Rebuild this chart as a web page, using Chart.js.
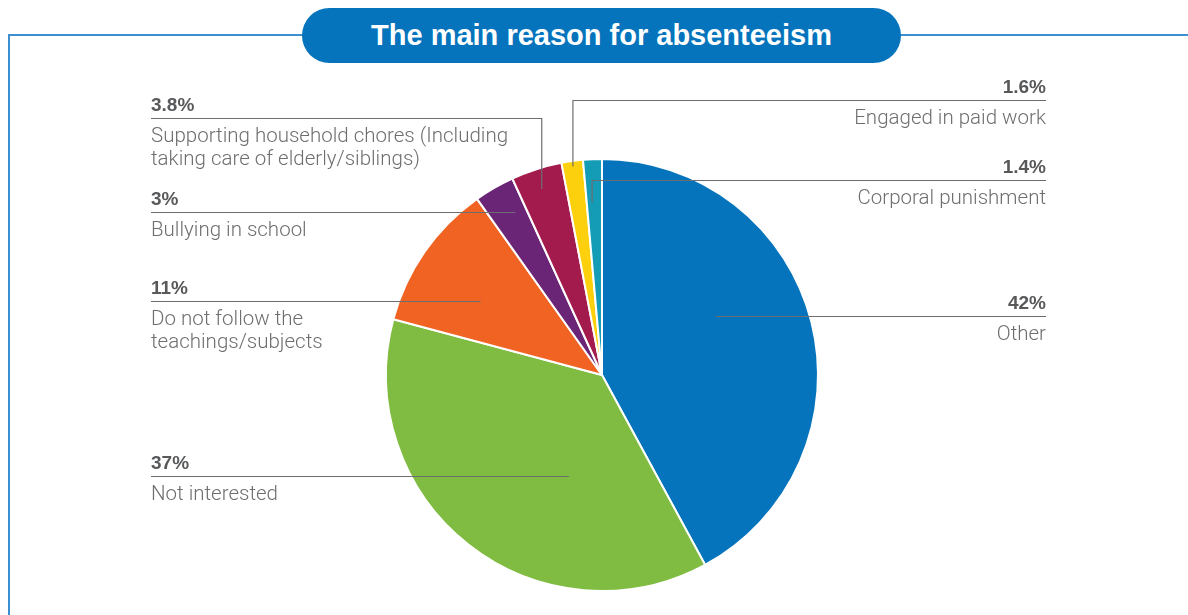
<!DOCTYPE html>
<html>
<head>
<meta charset="utf-8">
<script src="https://cdn.jsdelivr.net/npm/chart.js@4/dist/chart.umd.min.js"></script>
<style>
  html, body { margin: 0; padding: 0; background: #fff; }
  #wrap { position: relative; width: 1188px; height: 615px; overflow: hidden; }
  #frame { position: absolute; left: 8px; top: 34px; width: 1200px; height: 600px;
           border-left: 2px solid #3d8fcf; border-top: 2px solid #3d8fcf; box-sizing: border-box; }
  #title { position: absolute; left: 302px; top: 8px; width: 599px; height: 55px;
           background: #0574bc; border-radius: 28px; color: #fff;
           font: bold 29px "Liberation Sans", Arial, sans-serif; text-align: center; line-height: 55px; }
  canvas { position: absolute; left: 0; top: 0; }
</style>
</head>
<body>
<div id="wrap">
  <div id="frame"></div>
  <div id="title">The main reason for absenteeism</div>
  <canvas id="c" width="1188" height="615"></canvas>
</div>
<script>
// Share of students by main reason for absenteeism (%)
const categories = [
  'Other',
  'Not interested',
  'Do not follow the teachings/subjects',
  'Bullying in school',
  'Supporting household chores (Including taking care of elderly/siblings)',
  'Engaged in paid work',
  'Corporal punishment'
];
const shares = [42, 37, 11, 3, 3.8, 1.6, 1.4];
const shareLabels = ['42%', '37%', '11%', '3%', '3.8%', '1.6%', '1.4%'];
const labelLines = [
  ['Other'],
  ['Not interested'],
  ['Do not follow the', 'teachings/subjects'],
  ['Bullying in school'],
  ['Supporting household chores (Including', 'taking care of elderly/siblings)'],
  ['Engaged in paid work'],
  ['Corporal punishment']
];
const sliceColors = ['#0574bc', '#80bc41', '#f16323', '#6b2577', '#a31b4d', '#fdd00e', '#149bb6'];

// Callout layout: side, y of the rule line, and where inside the slice the leader ends
// (t = fraction across the slice's angle, f = fraction of the radius)
const callouts = [
  { side: 'right', lineY: 316, t: 0.415, f: 0.59, elbow: false },
  { side: 'left',  lineY: 476, t: 0.35,  f: 0.49, elbow: false },
  { side: 'left',  lineY: 301, t: 0.42,  f: 0.66, elbow: false },
  { side: 'left',  lineY: 212, t: 0.66,  f: 0.85, elbow: false },
  { side: 'left',  lineY: 118, t: 0.48,  f: 0.905, elbow: true },
  { side: 'right', lineY: 100, t: 0.5,   f: 0.975, elbow: true },
  { side: 'right', lineY: 180, t: 0.35,  f: 0.80, elbow: true }
];
const LEFT_X = 151, RIGHT_X = 1046;

const calloutPlugin = {
  id: 'callouts',
  afterDatasetsDraw(chart) {
    const ctx = chart.ctx;
    const arcs = chart.getDatasetMeta(0).data;
    ctx.save();
    arcs.forEach((arc, i) => {
      const c = callouts[i];
      const p = arc.getProps(['x', 'y', 'startAngle', 'endAngle', 'outerRadius'], true);
      const a = p.startAngle + (p.endAngle - p.startAngle) * c.t;
      const ex = p.x + Math.cos(a) * p.outerRadius * c.f;
      const ey = p.y + Math.sin(a) * p.outerRadius * c.f;
      const sx = c.side === 'left' ? LEFT_X : RIGHT_X;

      ctx.strokeStyle = '#6d6e70';
      ctx.lineWidth = 1.2;
      ctx.beginPath();
      ctx.moveTo(sx, c.lineY + 0.5);
      ctx.lineTo(ex, c.lineY + 0.5);
      if (c.elbow) ctx.lineTo(ex, ey);
      ctx.stroke();

      ctx.textAlign = c.side === 'left' ? 'left' : 'right';
      ctx.textBaseline = 'alphabetic';
      ctx.fillStyle = '#58595b';
      ctx.font = 'bold 19px "Liberation Sans", Arial, sans-serif';
      ctx.fillText(shareLabels[i], sx, c.lineY - 7);

      ctx.fillStyle = '#6d6e70';
      ctx.font = '300 20.5px Roboto, "Liberation Sans", sans-serif';
      labelLines[i].forEach((ln, k) => {
        ctx.fillText(ln, sx, c.lineY + 24 + k * 23);
      });
    });
    ctx.restore();
  }
};

new Chart(document.getElementById('c'), {
  type: 'pie',
  data: {
    labels: categories,
    datasets: [{
      data: shares,
      backgroundColor: sliceColors,
      borderColor: '#ffffff',
      borderWidth: 2
    }]
  },
  options: {
    responsive: false,
    animation: false,
    layout: { padding: { left: 385, right: 369, top: 158, bottom: 23 } },
    plugins: {
      legend: { display: false },
      tooltip: { enabled: false }
    }
  },
  plugins: [calloutPlugin]
});
</script>
</body>
</html>
